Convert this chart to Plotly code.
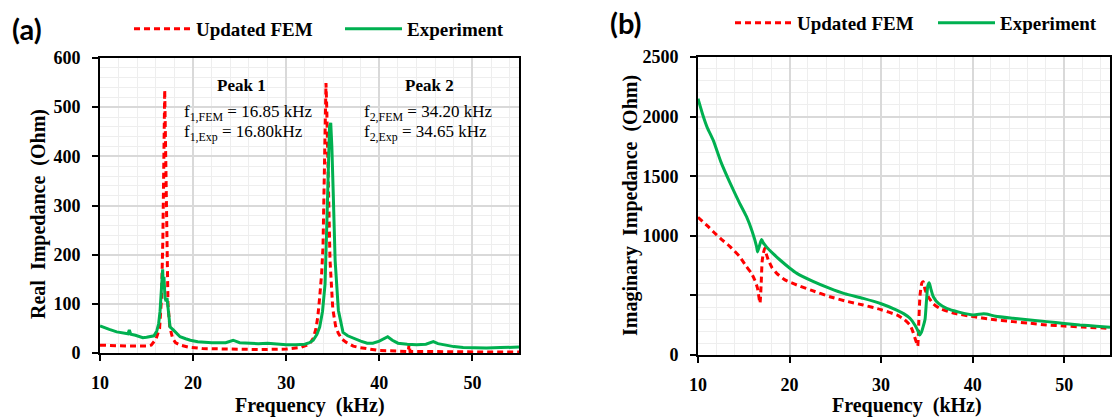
import plotly.graph_objects as go

# ---------------- data ----------------
# (a) Real impedance, Updated FEM
fem_re_f = [10, 11, 12, 13, 14, 15, 15.5, 16.0, 16.4, 16.6, 16.75, 16.85, 16.95, 17.05, 17.15, 17.3, 17.5,
            17.8, 18.1, 18.6, 19.5, 21, 24, 27, 30, 31.5, 32.5, 32.9, 33.2, 33.4, 33.6, 33.8, 33.95, 34.1,
            34.2, 34.27, 34.35, 34.5, 34.7, 35.0, 35.3, 35.6, 36.0, 36.5, 37.2, 37.9, 39, 40, 42, 43.1,
            43.2, 43.3, 45, 48, 50, 52, 55]
fem_re_v = [16, 15, 14, 14, 14, 14, 16, 28, 50, 110, 230, 410, 535, 410, 235, 100, 52,
            30, 21, 16, 12, 9, 8, 7, 8, 11, 18, 30, 50, 75, 115, 160, 216, 380,
            520, 549, 500, 330, 190, 90, 55, 40, 28, 21, 14, 11, 8, 5, 4, 3,
            18, 3, 3, 2, 2, 2, 2]

# (a) Real impedance, Experiment
exp_re_f = [10, 10.5, 11, 11.8, 12.5, 13.0, 13.15, 13.3, 13.8, 14.3, 14.6, 15.0, 15.4, 15.8, 16.1, 16.3,
            16.45, 16.6, 16.73, 16.8, 16.87, 16.98, 17.1, 17.2, 17.34, 17.52, 17.87, 18.2, 18.6, 19.2,
            19.7, 20.5, 22, 23.5, 24.3, 25, 26, 27, 28, 29, 30, 31, 32, 32.5, 32.9, 33.3, 33.6, 33.9,
            34.17, 34.35, 34.5, 34.65, 34.78, 34.9, 35.05, 35.25, 35.6, 36.1, 36.6, 37.2, 38.0, 38.7,
            39.3, 40.0, 40.6, 40.9, 41.4, 42, 43, 44, 45, 45.8, 46.3, 47, 48, 49, 50, 51.5, 53, 55]
exp_re_v = [55, 51, 48, 43, 40, 39, 47, 38, 36, 33, 31, 32, 33, 35, 45, 60,
            85, 140, 170, 130, 155, 112, 105, 112, 81, 53, 47, 40, 33, 29,
            26, 23, 21, 21, 26, 21, 20, 19, 20, 18, 17, 17, 18, 21, 26, 38, 53, 85,
            140, 256, 392, 460, 468, 420, 325, 189, 87, 42, 35, 30, 24, 20,
            20, 24, 30, 33, 26, 20, 18, 17, 18, 23, 19, 16, 13, 11, 10, 10, 11, 12]

# (b) Imaginary impedance, Updated FEM
fem_im_f = [10, 10.5, 11, 11.67, 12.5, 13.5, 14.5, 15.3, 15.8, 16.2, 16.5, 16.77, 16.9, 17.0, 17.13, 17.3,
            17.45, 17.68, 18.1, 18.6, 19.5, 20.8, 22.5, 24.4, 26, 28.05, 30, 31.7, 32.5, 33.15, 33.5,
            33.75, 33.9, 34.0, 34.1, 34.25, 34.45, 34.6, 34.8, 35.15, 35.7, 36.4, 38, 40.07, 42, 44.4,
            46, 48.1, 50, 52, 55]
fem_im_v = [1155, 1120, 1085, 1034, 975, 909, 830, 741, 690, 629, 560, 434, 600, 780, 853, 895,
            850, 797, 730, 685, 630, 587, 540, 489, 455, 419, 380, 336, 300, 252, 190,
            130, 95, 75, 250, 500, 605, 615, 550, 489, 430, 391, 350, 322, 300, 280,
            268, 252, 243, 235, 224]

# (b) Imaginary impedance, Experiment
exp_im_f = [10, 10.5, 11, 11.67, 12.5, 13.5, 14.5, 15.3, 15.9, 16.4, 16.5, 16.65, 16.8, 16.95, 17.1,
            17.5, 18.2, 18.96, 20, 20.8, 22.5, 24.4, 26, 28.05, 30, 31.7, 32.5, 33.15, 33.7, 34.06,
            34.2, 34.4, 34.6, 34.8, 34.95, 35.1, 35.26, 35.45, 35.7, 36.3, 37.16, 38.5, 40.07, 41.0,
            41.5, 42.5, 44.4, 46, 48.1, 50, 51.7, 53.5, 55]
exp_im_v = [2150, 2020, 1910, 1800, 1620, 1443, 1280, 1160, 1040, 909, 865, 900, 940, 970, 945,
            905, 850, 797, 730, 685, 620, 559, 515, 475, 430, 377, 345, 308, 250, 196,
            168, 190, 240, 300, 450, 580, 607, 550, 489, 430, 391, 360, 336, 345,
            344, 325, 308, 295, 280, 265, 252, 242, 232]

x_ticks = [10, 20, 30, 40, 50]
re_ticks = [0, 100, 200, 300, 400, 500, 600]
im_ticks = [0, 500, 1000, 1500, 2000, 2500]
im_tick_text = ["0", "", "1000", "1500", "2000", "2500"]

RED = "#FF0000"
GREEN = "#00B050"
SERIF = "Liberation Serif"
W, H = 1113, 417

def px_x(p):
    return p / W

def px_y(p):
    return 1 - p / H

fig = go.Figure()
fig.add_trace(go.Scatter(x=fem_re_f, y=fem_re_v, mode="lines", name="Updated FEM",
                         line=dict(color=RED, width=3, dash="6px,4px"),
                         xaxis="x", yaxis="y", legend="legend"))
fig.add_trace(go.Scatter(x=exp_re_f, y=exp_re_v, mode="lines", name="Experiment",
                         line=dict(color=GREEN, width=3),
                         xaxis="x", yaxis="y", legend="legend2"))
fig.add_trace(go.Scatter(x=fem_im_f, y=fem_im_v, mode="lines", name="Updated FEM",
                         line=dict(color=RED, width=3, dash="6px,4px", shape="spline", smoothing=0.5),
                         xaxis="x2", yaxis="y2", legend="legend3"))
fig.add_trace(go.Scatter(x=exp_im_f, y=exp_im_v, mode="lines", name="Experiment",
                         line=dict(color=GREEN, width=3, shape="spline", smoothing=0.5),
                         xaxis="x2", yaxis="y2", legend="legend4"))

tickfont = dict(family=SERIF, size=18, color="black", weight="bold")
major = "#D9D9D9"
minor_c = "#EEEEEE"

def xaxis(domain, anchor):
    return dict(domain=domain, anchor=anchor, range=[10, 55], tickvals=x_ticks,
                showline=True, linecolor="black", linewidth=2, mirror=True,
                ticks="outside", ticklen=6, tickwidth=2, tickcolor="black",
                ticklabelstandoff=6, automargin=False,
                showgrid=True, gridcolor=major, gridwidth=1.5,
                minor=dict(dtick=2, showgrid=True, gridcolor=minor_c, gridwidth=1, ticks=""),
                tickfont=tickfont, zeroline=False)

def yaxis(domain, anchor, rng, vals, text, mdt):
    d = dict(domain=domain, anchor=anchor, range=rng, tickvals=vals,
             showline=True, linecolor="black", linewidth=2, mirror=True,
             ticks="outside", ticklen=6, tickwidth=2, tickcolor="black",
             ticklabelstandoff=8, automargin=False,
             showgrid=True, gridcolor=major, gridwidth=1.5,
             minor=dict(dtick=mdt, showgrid=True, gridcolor=minor_c, gridwidth=1, ticks=""),
             tickfont=tickfont, zeroline=False)
    if text is not None:
        d["ticktext"] = text
    return d

def legend_at(xp, yp):
    return dict(orientation="h", x=px_x(xp), y=px_y(yp), xanchor="left", yanchor="middle",
                font=dict(family=SERIF, size=19, color="black", weight="bold"),
                itemwidth=57, bgcolor="rgba(0,0,0,0)", borderwidth=0)

fig.update_layout(
    width=W, height=H,
    margin=dict(l=0, r=0, t=0, b=0, autoexpand=False),
    paper_bgcolor="white", plot_bgcolor="white",
    xaxis=xaxis([px_x(100), px_x(519)], "y"),
    yaxis=yaxis([px_y(353), px_y(58)], "x", [0, 600], re_ticks, None, 20),
    xaxis2=xaxis([px_x(698), px_x(1110)], "y2"),
    yaxis2=yaxis([px_y(355), px_y(57)], "x2", [0, 2500], im_ticks, im_tick_text, 100),
    legend=legend_at(129, 29),
    legend2=legend_at(340, 29),
    legend3=legend_at(730, 23),
    legend4=legend_at(933, 23),
    showlegend=True,
)

def note(text, xp, yp, font, xanchor="center", angle=0):
    return dict(text=text, x=px_x(xp), y=px_y(yp), xref="paper", yref="paper",
                xanchor=xanchor, yanchor="middle", textangle=angle,
                showarrow=False, font=font)

title_font = dict(family=SERIF, size=20, color="black", weight="bold")
label_font = dict(family="Lato", size=29, color="black", weight="bold")
note_font = dict(family=SERIF, size=17, color="black")

ann = [
    note("Frequency  (kHz)", 310, 405, title_font),
    note("Frequency  (kHz)", 907, 405, title_font),
    note("Real  Impedance  (Ohm)", 38, 214, title_font, angle=-90),
    note("Imaginary  Impedance  (Ohm)", 630, 206, title_font, angle=-90),
    note("(a)", 27, 28, label_font),
    note("(b)", 626, 22, label_font),
    note("<b>Peak 1</b>", 241, 85, note_font),
    note("<b>Peak 2</b>", 429, 85, note_font),
    note("f<sub>1,FEM</sub> = 16.85 kHz", 182, 113, note_font, xanchor="left"),
    note("f<sub>1,Exp</sub> = 16.80kHz", 182, 133, note_font, xanchor="left"),
    note("f<sub>2,FEM</sub> = 34.20 kHz", 362, 113, note_font, xanchor="left"),
    note("f<sub>2,Exp</sub> = 34.65 kHz", 362, 133, note_font, xanchor="left"),
]
fig.update_layout(annotations=ann)

fig.write_html("out.html")
